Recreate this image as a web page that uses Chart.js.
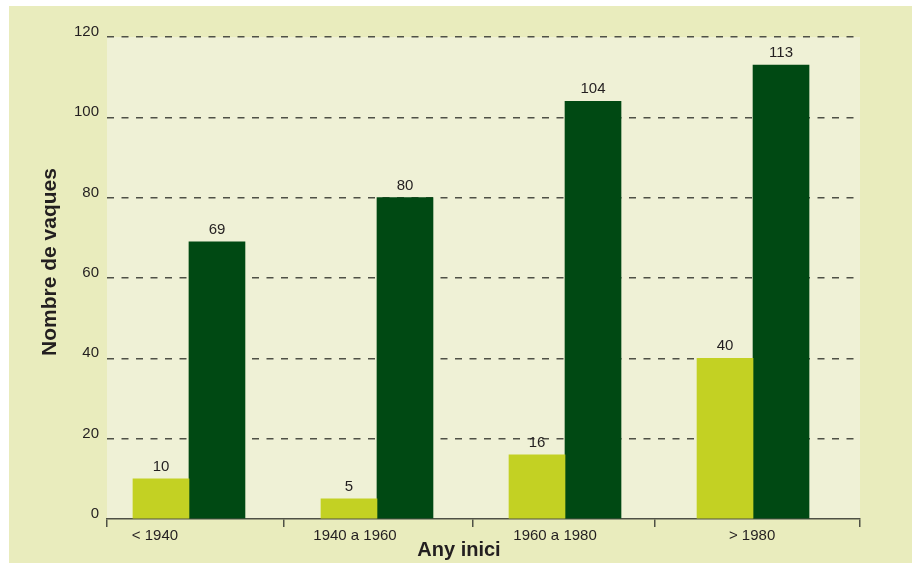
<!DOCTYPE html>
<html lang="ca">
<head>
<meta charset="utf-8">
<title>Nombre de vaques per any d'inici</title>
<script src="https://cdn.jsdelivr.net/npm/chart.js@4/dist/chart.umd.min.js"></script>
<style>
  html, body { margin: 0; padding: 0; background: #fff; }
  #frame { position: absolute; left: 9px; top: 6px; width: 903px; height: 557px; background: #e9ecbd; }
  canvas { display: block; }
</style>
</head>
<body>
<div id="frame"><canvas id="chart" width="903" height="557"></canvas></div>
<script>
// Dades
const categories = ['< 1940', '1940 a 1960', '1960 a 1980', '> 1980'];
const serie1 = [10, 5, 16, 40];
const serie2 = [69, 80, 104, 113];
const yTicks = [0, 20, 40, 60, 80, 100, 120];

const FONT = "'Liberation Sans', Arial, Helvetica, sans-serif";
const TEXT = '#231f20';
const GRID = '#4f5146';

// x axis: groups sit at 0..3, the frame runs a bit past them on both sides
const xMin = -0.436, xMax = 3.569;
const groupEdges = [-0.436, 0.505, 1.511, 2.479, 3.569];
const labelSpots = [-0.181, 0.883, 1.947, 2.995];

const plotBackground = {
  id: 'plotBackground',
  beforeDraw(chart) {
    const { ctx, chartArea: a } = chart;
    ctx.save();
    ctx.fillStyle = '#eff1d6';
    ctx.fillRect(a.left, a.top, a.right - a.left, a.bottom - a.top);
    ctx.restore();
  }
};

// value above each bar
const valueLabels = {
  id: 'valueLabels',
  afterDatasetsDraw(chart) {
    const ctx = chart.ctx;
    ctx.save();
    ctx.font = '15px ' + FONT;
    ctx.fillStyle = TEXT;
    ctx.textAlign = 'center';
    ctx.textBaseline = 'alphabetic';
    chart.data.datasets.forEach((ds, i) => {
      chart.getDatasetMeta(i).data.forEach((bar, j) => {
        ctx.fillText(ds.data[j].y, bar.x, bar.y - 8);
      });
    });
    ctx.restore();
  }
};

const axisTitles = {
  id: 'axisTitles',
  afterDraw(chart) {
    const ctx = chart.ctx;
    ctx.save();
    ctx.fillStyle = TEXT;
    ctx.textAlign = 'center';
    ctx.textBaseline = 'alphabetic';
    ctx.font = 'bold 20px ' + FONT;
    ctx.fillText('Any inici', 450, 550);
    ctx.translate(47, 256);
    ctx.rotate(-Math.PI / 2);
    ctx.font = 'bold 21px ' + FONT;
    ctx.fillText('Nombre de vaques', 0, 0);
    ctx.restore();
  }
};

const ctx = document.getElementById('chart').getContext('2d');
new Chart(ctx, {
  type: 'bar',
  data: {
    datasets: [
      {
        data: serie1.map((v, i) => ({ x: i, y: v })),
        backgroundColor: '#c3d123',
        borderWidth: 0,
        barThickness: 56
      },
      {
        data: serie2.map((v, i) => ({ x: i, y: v })),
        backgroundColor: '#004913',
        borderWidth: 0,
        barThickness: 56
      }
    ]
  },
  options: {
    responsive: false,
    animation: false,
    events: [],
    layout: { padding: { left: 0, top: 31, right: 52, bottom: 0 } },
    plugins: {
      legend: { display: false },
      tooltip: { enabled: false }
    },
    scales: {
      x: {
        type: 'linear',
        position: 'bottom',
        min: xMin,
        max: xMax,
        offset: false,
        weight: 0,
        afterBuildTicks: s => { s.ticks = groupEdges.map(v => ({ value: v })); },
        afterFit: s => { s.height = 8; },
        ticks: { display: false },
        grid: { offset: false, drawOnChartArea: false, drawTicks: true, tickLength: 8, color: GRID, lineWidth: 1.5 },
        border: { display: true, color: GRID, width: 1.5 }
      },
      xl: {
        type: 'linear',
        position: 'bottom',
        min: xMin,
        max: xMax,
        offset: false,
        weight: 1,
        afterBuildTicks: s => { s.ticks = labelSpots.map(v => ({ value: v })); },
        afterFit: s => { s.height = 36; },
        ticks: {
          autoSkip: false,
          maxRotation: 0,
          padding: 0,
          color: TEXT,
          font: { family: FONT, size: 15 },
          callback: (value, index) => categories[index]
        },
        grid: { display: false, offset: false, drawTicks: false },
        border: { display: false }
      },
      y: {
        min: 0,
        max: 120,
        afterBuildTicks: s => { s.ticks = yTicks.map(v => ({ value: v })); },
        afterFit: s => { s.width = 98; },
        ticks: {
          padding: 8,
          labelOffset: -5,
          color: TEXT,
          font: { family: FONT, size: 15 }
        },
        grid: {
          drawTicks: false,
          color: c => (c.tick && c.tick.value === 0 ? 'rgba(0,0,0,0)' : GRID),
          lineWidth: 1.5
        },
        border: { display: false, dash: [7, 7.5] }
      }
    }
  },
  plugins: [plotBackground, valueLabels, axisTitles]
});
</script>
</body>
</html>
